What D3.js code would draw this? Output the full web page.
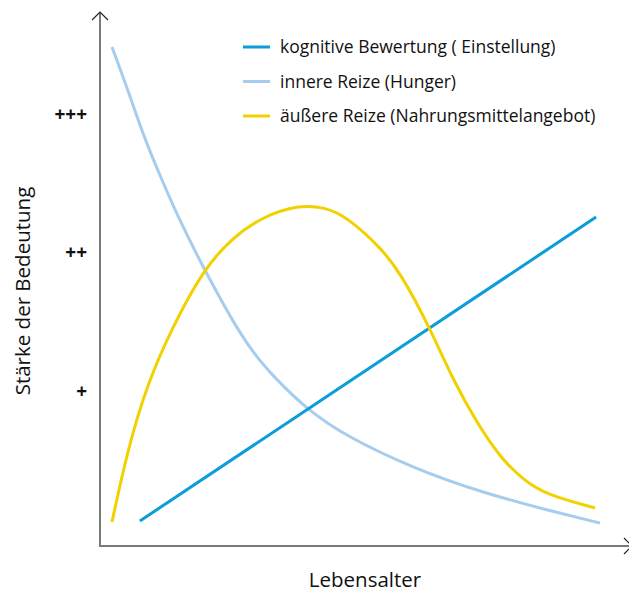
<!doctype HTML>
<html>
<head>
    <script src="https://d3js.org/d3.v7.min.js"></script>
    <style>
        body { margin: 0; background: #fff; }
    </style>
</head>
<body>
<script>
    // Lebensalter in arbitrary units 0..100, strength on the +/++/+++ scale
    var seriesNames = ["kognitive Bewertung ( Einstellung)", "innere Reize (Hunger)", "äußere Reize (Nahrungsmittelangebot)"];
    var seriesColors = ["#0a9ddb", "#a6cdee", "#f2d100"];

    var kognitiv = [[6.1, 0.065], [99.2, 2.257]];
    var innere = [[0.41, 3.483], [3.67, 3.173], [7.14, 2.812], [10.61, 2.524], [13.88, 2.257],
                  [18.98, 1.897], [22.45, 1.673], [26.12, 1.442], [29.59, 1.262], [33.06, 1.118],
                  [39.8, 0.88], [48.37, 0.671], [61.84, 0.447], [75.51, 0.274], [89.18, 0.144], [100, 0.05]];
    var aeussere = [[0.41, 0.058], [3.67, 0.591], [7.76, 1.067], [12.65, 1.457], [18.98, 1.875],
                    [24.9, 2.106], [31.02, 2.257], [38.37, 2.344], [43.88, 2.329], [48.37, 2.257],
                    [55.1, 2.041], [59.18, 1.861], [65.31, 1.457], [70.0, 1.082], [74.9, 0.772],
                    [79.59, 0.526], [84.29, 0.361], [89.18, 0.252], [98.98, 0.159]];

    var yTickValues = [1, 2, 3];
    var yTickLabels = ["+", "++", "+++"];

    var canvasWidth = 629;
    var canvasHeight = 592;
    var font = "'Open Sans', sans-serif";

    var svg = d3.select("body").append("svg")
        .attr("width", canvasWidth)
        .attr("height", canvasHeight);

    var xScale = d3.scaleLinear().domain([0, 100]).range([110, 600]);
    var yScale = d3.scaleLinear().domain([0, 3]).range([530, 114]);

    var axisX = 100, axisY = 546;

    // axes lines
    svg.append("line")
        .attr("x1", axisX).attr("y1", 12).attr("x2", axisX).attr("y2", axisY)
        .attr("stroke", "#7a7a7a").attr("stroke-width", 2);
    svg.append("line")
        .attr("x1", axisX - 1).attr("y1", axisY).attr("x2", 630).attr("y2", axisY)
        .attr("stroke", "#7a7a7a").attr("stroke-width", 2);

    // arrow heads
    svg.append("path")
        .attr("d", "M92,20 L100,12 L108,20")
        .attr("fill", "none").attr("stroke", "#222").attr("stroke-width", 1.2);
    svg.append("path")
        .attr("d", "M624,538 L632,546 L624,554")
        .attr("fill", "none").attr("stroke", "#222").attr("stroke-width", 1.2);

    // y ticks
    var yAxis = svg.append("g")
        .attr("transform", "translate(" + axisX + ",0)")
        .call(d3.axisLeft(yScale)
            .tickValues(yTickValues)
            .tickSize(0)
            .tickPadding(13)
            .tickFormat(function(d, i) { return yTickLabels[i]; }));
    yAxis.select(".domain").remove();
    yAxis.selectAll("text")
        .style("font-family", font)
        .style("font-size", "19px")
        .style("font-weight", "bold")
        .attr("fill", "#111");

    // curves
    var line = d3.line()
        .x(function(d) { return xScale(d[0]); })
        .y(function(d) { return yScale(d[1]); })
        .curve(d3.curveBasis);

    var series = [innere, kognitiv, aeussere];
    var colorsDraw = [seriesColors[1], seriesColors[0], seriesColors[2]];
    series.forEach(function(s, i) {
        svg.append("path")
            .datum(s)
            .attr("d", line)
            .attr("fill", "none")
            .attr("stroke", colorsDraw[i])
            .attr("stroke-width", 3);
    });

    // legend
    var legend = svg.append("g").attr("transform", "translate(243,47)");
    seriesNames.forEach(function(name, i) {
        var g = legend.append("g").attr("transform", "translate(0," + (i * 34.5) + ")");
        g.append("line")
            .attr("x1", 0).attr("x2", 27)
            .attr("stroke", seriesColors[i]).attr("stroke-width", 3);
        g.append("text")
            .attr("x", 37).attr("y", 0)
            .attr("dy", "0.35em")
            .style("font-family", font)
            .style("font-size", "17.5px")
            .attr("fill", "#111")
            .text(name);
    });

    // axis titles
    svg.append("text")
        .attr("x", 365).attr("y", 580)
        .attr("dy", "0.35em")
        .attr("text-anchor", "middle")
        .style("font-family", font)
        .style("font-size", "20.5px")
        .attr("fill", "#111")
        .text("Lebensalter");

    svg.append("text")
        .attr("transform", "translate(23,291) rotate(-90)")
        .attr("dy", "0.35em")
        .attr("text-anchor", "middle")
        .style("font-family", font)
        .style("font-size", "20.5px")
        .attr("fill", "#111")
        .text("Stärke der Bedeutung");
</script>
</body>
</html>
